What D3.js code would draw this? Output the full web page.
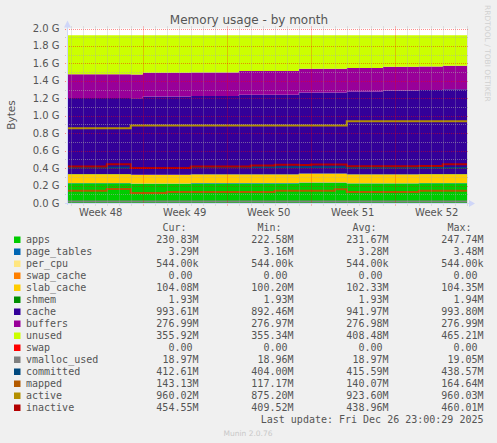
<!DOCTYPE html>
<html lang="en">
<head>
<meta charset="UTF-8">
<title>Memory usage - by month</title>
<script src="https://d3js.org/d3.v7.min.js"></script>
<style>
    body { margin: 0; background: #f0f0f0; }
    svg { display: block; }
    text { fill: #555; font-family: "DejaVu Sans", sans-serif; font-size: 10px; }
    .mono { font-family: "DejaVu Sans Mono", monospace; font-size: 10px; }
</style>
</head>
<body>
<svg width="497" height="443"></svg>
<script>
// one sample per day (MiB), drawn as steps
const days = ["2025-11-23", "2025-11-24", "2025-11-25", "2025-11-26", "2025-11-27", "2025-11-28", "2025-11-29",
    "2025-11-30", "2025-12-01", "2025-12-02", "2025-12-03", "2025-12-04", "2025-12-05", "2025-12-06",
    "2025-12-07", "2025-12-08", "2025-12-09", "2025-12-10", "2025-12-11", "2025-12-12", "2025-12-13",
    "2025-12-14", "2025-12-15", "2025-12-16", "2025-12-17", "2025-12-18", "2025-12-19", "2025-12-20",
    "2025-12-21", "2025-12-22", "2025-12-23", "2025-12-24", "2025-12-25", "2025-12-26"];

const apps = [232, 232, 232, 232, 232, 232, 226, 226, 226, 226, 226, 230, 230, 230, 230, 230, 230,
    230, 230, 230, 236, 236, 236, 236, 228, 228, 228, 228, 228, 228, 231, 231, 231, 231];
const pageTables = [3.3, 3.3, 3.3, 3.3, 3.3, 3.3, 3.2, 3.2, 3.2, 3.2, 3.2, 3.3, 3.3, 3.3, 3.3, 3.3, 3.3,
    3.3, 3.3, 3.3, 3.4, 3.4, 3.4, 3.4, 3.3, 3.3, 3.3, 3.3, 3.3, 3.3, 3.3, 3.3, 3.3, 3.3];
const perCpu = [0.53, 0.53, 0.53, 0.53, 0.53, 0.53, 0.53, 0.53, 0.53, 0.53, 0.53, 0.53, 0.53, 0.53, 0.53, 0.53, 0.53,
    0.53, 0.53, 0.53, 0.53, 0.53, 0.53, 0.53, 0.53, 0.53, 0.53, 0.53, 0.53, 0.53, 0.53, 0.53, 0.53, 0.53];
const swapCache = [0, 0, 0, 0, 0, 0, 0, 0, 0, 0, 0, 0, 0, 0, 0, 0, 0,
    0, 0, 0, 0, 0, 0, 0, 0, 0, 0, 0, 0, 0, 0, 0, 0, 0];
const slabCache = [102, 102, 102, 102, 102, 102, 101, 101, 101, 101, 101, 102, 102, 102, 102, 102, 102,
    102, 102, 102, 103, 103, 103, 103, 103, 103, 103, 104, 104, 104, 104, 104, 104, 104];
const shmem = [1.93, 1.93, 1.93, 1.93, 1.93, 1.93, 1.93, 1.93, 1.93, 1.93, 1.93, 1.93, 1.93, 1.93, 1.93, 1.93, 1.93,
    1.93, 1.93, 1.93, 1.93, 1.93, 1.93, 1.93, 1.93, 1.93, 1.93, 1.93, 1.93, 1.93, 1.93, 1.93, 1.93, 1.93];
const cache = [894, 894, 894, 894, 894, 894, 898, 918, 918, 918, 918, 918, 918, 918, 918, 933, 933,
    933, 933, 933, 953, 953, 953, 953, 972, 972, 972, 984, 984, 984, 984, 984, 993, 993];
const buffers = [277, 277, 277, 277, 277, 277, 277, 277, 277, 277, 277, 277, 277, 277, 277, 277, 277,
    277, 277, 277, 277, 277, 277, 277, 277, 277, 277, 277, 277, 277, 277, 277, 277, 277];
const unused = [459, 459, 459, 459, 459, 459, 462, 442, 442, 442, 442, 437, 437, 437, 437, 422, 422,
    422, 422, 422, 395, 395, 395, 395, 384, 384, 384, 371, 371, 371, 368, 368, 359, 359];
const swap = [0, 0, 0, 0, 0, 0, 0, 0, 0, 0, 0, 0, 0, 0, 0, 0, 0,
    0, 0, 0, 0, 0, 0, 0, 0, 0, 0, 0, 0, 0, 0, 0, 0, 0];

const vmallocUsed = [19, 19, 19, 19, 19, 19, 19, 19, 19, 19, 19, 19, 19, 19, 19, 19, 19,
    19, 19, 19, 19, 19, 19, 19, 19, 19, 19, 19, 19, 19, 19, 19, 19, 19];
const committed = [415, 415, 415, 415, 415, 415, 412, 412, 412, 412, 412, 420, 420, 420, 420, 420, 420,
    420, 420, 420, 420, 420, 420, 420, 410, 410, 410, 410, 410, 410, 410, 410, 410, 410];
const mapped = [145, 145, 145, 145, 164, 164, 118, 118, 118, 128, 128, 128, 128, 128, 128, 128, 128,
    128, 145, 145, 145, 145, 145, 162, 128, 128, 128, 128, 128, 128, 143, 143, 143, 143];
const active = [876, 876, 876, 876, 876, 876, 910, 910, 910, 910, 910, 910, 910, 910, 910, 910, 910,
    910, 910, 910, 910, 910, 910, 910, 960, 960, 960, 960, 960, 960, 960, 960, 960, 960];
const inactive = [427, 427, 427, 427, 455, 455, 410, 410, 410, 410, 410, 427, 427, 427, 427, 427, 440,
    440, 450, 450, 445, 452, 452, 452, 432, 432, 432, 432, 432, 432, 435, 435, 455, 455];

const weekStarts = ["2025-11-23", "2025-11-30", "2025-12-07", "2025-12-14", "2025-12-21"];
const weekLabels = ["Week 48", "Week 49", "Week 50", "Week 51", "Week 52"];
const yTickLabels = ["0.0 G", "0.2 G", "0.4 G", "0.6 G", "0.8 G", "1.0 G", "1.2 G", "1.4 G", "1.6 G", "1.8 G", "2.0 G"];

const legendNames = ["apps", "page_tables", "per_cpu", "swap_cache", "slab_cache", "shmem", "cache", "buffers",
    "unused", "swap", "vmalloc_used", "committed", "mapped", "active", "inactive"];
const legendColors = ["#00CC00", "#0066B3", "#FFE680", "#FF8000", "#FFCC00", "#008F00", "#330099", "#990099",
    "#CCFF00", "#FF0000", "#808080", "#00487D", "#B35A00", "#B38F00", "#B30000"];
const curVals = ["230.83M", "3.29M", "544.00k", "0.00 ", "104.08M", "1.93M", "993.61M", "276.99M",
    "355.92M", "0.00 ", "18.97M", "412.61M", "143.13M", "960.02M", "454.55M"];
const minVals = ["222.58M", "3.16M", "544.00k", "0.00 ", "100.20M", "1.93M", "892.46M", "276.97M",
    "355.34M", "0.00 ", "18.96M", "404.00M", "117.17M", "875.20M", "409.52M"];
const avgVals = ["231.67M", "3.28M", "544.00k", "0.00 ", "102.33M", "1.93M", "941.97M", "276.98M",
    "408.48M", "0.00 ", "18.97M", "415.59M", "140.07M", "923.60M", "438.96M"];
const maxVals = ["247.74M", "3.48M", "544.00k", "0.00 ", "104.35M", "1.94M", "993.80M", "276.99M",
    "465.21M", "0.00 ", "19.05M", "438.57M", "164.64M", "960.03M", "460.01M"];

const areaSeries = [
    ["apps", apps], ["page_tables", pageTables], ["per_cpu", perCpu], ["swap_cache", swapCache],
    ["slab_cache", slabCache], ["shmem", shmem], ["cache", cache], ["buffers", buffers],
    ["unused", unused], ["swap", swap]
];
const lineSeries = [
    ["vmalloc_used", vmallocUsed], ["committed", committed], ["mapped", mapped],
    ["active", active], ["inactive", inactive]
];
const colorOf = name => legendColors[legendNames.indexOf(name)];

const svg = d3.select("svg");
const plotL = 67, plotR = 467, plotT = 28.5, plotB = 203;

const x = d3.scaleUtc()
    .domain([new Date("2025-11-23T16:30:00Z"), new Date("2025-12-27T00:30:00Z")])
    .range([plotL, plotR]);
const y = d3.scaleLinear().domain([0, 2048]).range([plotB, plotT]);

const rows = days.map((d, i) => {
    const r = {date: new Date(d + "T00:00:00Z")};
    areaSeries.concat(lineSeries).forEach(([name, arr]) => r[name] = arr[i]);
    return r;
});
// carry the last step to the right edge
rows.push(Object.assign({}, rows[rows.length - 1], {date: x.domain()[1]}));

svg.append("defs").append("clipPath").attr("id", "plot")
    .append("rect").attr("x", plotL).attr("y", plotT).attr("width", plotR - plotL).attr("height", plotB - plotT);

svg.append("rect").attr("x", plotL).attr("y", plotT).attr("width", plotR - plotL).attr("height", plotB - plotT)
    .attr("fill", "#fff");

const plot = svg.append("g").attr("clip-path", "url(#plot)");

const stack = d3.stack().keys(areaSeries.map(s => s[0]))(rows);
const area = d3.area().curve(d3.curveStepAfter)
    .x(d => x(d.data.date))
    .y0(d => y(d[0]))
    .y1(d => y(d[1]));

plot.selectAll(".layer")
    .data(stack)
    .enter().append("path")
    .attr("class", "layer")
    .attr("fill", d => colorOf(d.key))
    .attr("d", area);

lineSeries.forEach(([name]) => {
    plot.append("path")
        .datum(rows)
        .attr("fill", "none")
        .attr("stroke", colorOf(name))
        .attr("stroke-width", 2)
        .attr("d", d3.line().curve(d3.curveStepAfter).x(d => x(d.date)).y(d => y(d[name])));
});

// grid on top of the data, running 2px past the canvas as ticks
const crisp = v => Math.round(v) + 0.5;
const grid = svg.append("g").attr("fill", "none").attr("stroke-dasharray", "1,1");

d3.range(0, 21).forEach(i => {
    const yy = crisp(y(i * 102.4));
    grid.append("line")
        .attr("x1", plotL - 2).attr("x2", plotR + 2).attr("y1", yy).attr("y2", yy)
        .attr("stroke", i % 2 === 0 ? "rgba(255,0,0,0.45)" : "rgba(170,170,170,0.55)");
});

d3.utcDay.range(x.domain()[0], x.domain()[1]).forEach(d => {
    const xx = crisp(x(d));
    grid.append("line")
        .attr("y1", plotT - 2).attr("y2", plotB + 3).attr("x1", xx).attr("x2", xx)
        .attr("stroke", d.getUTCDay() === 0 ? "rgba(255,0,0,0.45)" : "rgba(170,170,170,0.55)");
});

// axes with arrows
const axisColor = "#CFD6F8";
svg.append("line").attr("x1", plotL - 2).attr("x2", plotR + 3).attr("y1", plotB + 0.5).attr("y2", plotB + 0.5)
    .attr("stroke", axisColor);
svg.append("line").attr("x1", plotL + 0.5).attr("x2", plotL + 0.5).attr("y1", plotB + 2).attr("y2", plotT - 3)
    .attr("stroke", axisColor);
svg.append("path").attr("fill", axisColor)
    .attr("d", `M${plotR + 2},${plotB - 3}L${plotR + 8},${plotB + 0.5}L${plotR + 2},${plotB + 4}Z`);
svg.append("path").attr("fill", axisColor)
    .attr("d", `M${plotL - 3},${plotT - 1}L${plotL + 0.5},${plotT - 8}L${plotL + 4},${plotT - 1}Z`);

// y tick labels
yTickLabels.forEach((t, i) => {
    svg.append("text")
        .attr("x", 59.5).attr("y", y(i * 204.8) + 3.5)
        .attr("text-anchor", "end")
        .text(t);
});

// week labels, centred on each week
weekStarts.forEach((w, i) => {
    const mid = d3.utcHour.offset(new Date(w + "T00:00:00Z"), 84);
    svg.append("text")
        .attr("x", x(mid)).attr("y", 215.5)
        .attr("text-anchor", "middle")
        .text(weekLabels[i]);
});

svg.append("text")
    .attr("transform", "translate(15,115) rotate(-90)")
    .attr("text-anchor", "middle")
    .style("font-size", "10.5px")
    .text("Bytes");

svg.append("text")
    .attr("x", 249).attr("y", 24)
    .attr("text-anchor", "middle")
    .style("font-size", "12px")
    .text("Memory usage - by month");

svg.append("text")
    .attr("transform", "translate(485,5) rotate(90)")
    .style("font-size", "7.5px")
    .style("fill", "#d0d0d0")
    .text("RRDTOOL / TOBI OETIKER");

// legend table
const colEnds = [198.5, 293.5, 388.5, 483.5];
const headers = ["Cur:", "Min:", "Avg:", "Max:"];
const nb = s => s.replace(/ /g, "\u00a0");

headers.forEach((h, j) => {
    svg.append("text").attr("class", "mono")
        .attr("x", colEnds[j] - 12).attr("y", 231)
        .attr("text-anchor", "end")
        .text(h);
});

legendNames.forEach((name, i) => {
    const base = 243 + i * 12;
    svg.append("rect")
        .attr("x", 14).attr("y", base - 6.5)
        .attr("width", 6.5).attr("height", 6.5)
        .attr("fill", legendColors[i]);
    svg.append("text").attr("class", "mono")
        .attr("x", 26).attr("y", base)
        .text(name);
    [curVals, minVals, avgVals, maxVals].forEach((vals, j) => {
        svg.append("text").attr("class", "mono")
            .attr("x", colEnds[j]).attr("y", base)
            .attr("text-anchor", "end")
            .text(nb(vals[i]));
    });
});

svg.append("text").attr("class", "mono")
    .attr("x", 483.5).attr("y", 423)
    .attr("text-anchor", "end")
    .text("Last update: Fri Dec 26 23:00:29 2025");

svg.append("text")
    .attr("x", 248).attr("y", 435.5)
    .attr("text-anchor", "middle")
    .style("font-size", "7.5px")
    .style("fill", "#c8c8c8")
    .text("Munin 2.0.76");
</script>
</body>
</html>
